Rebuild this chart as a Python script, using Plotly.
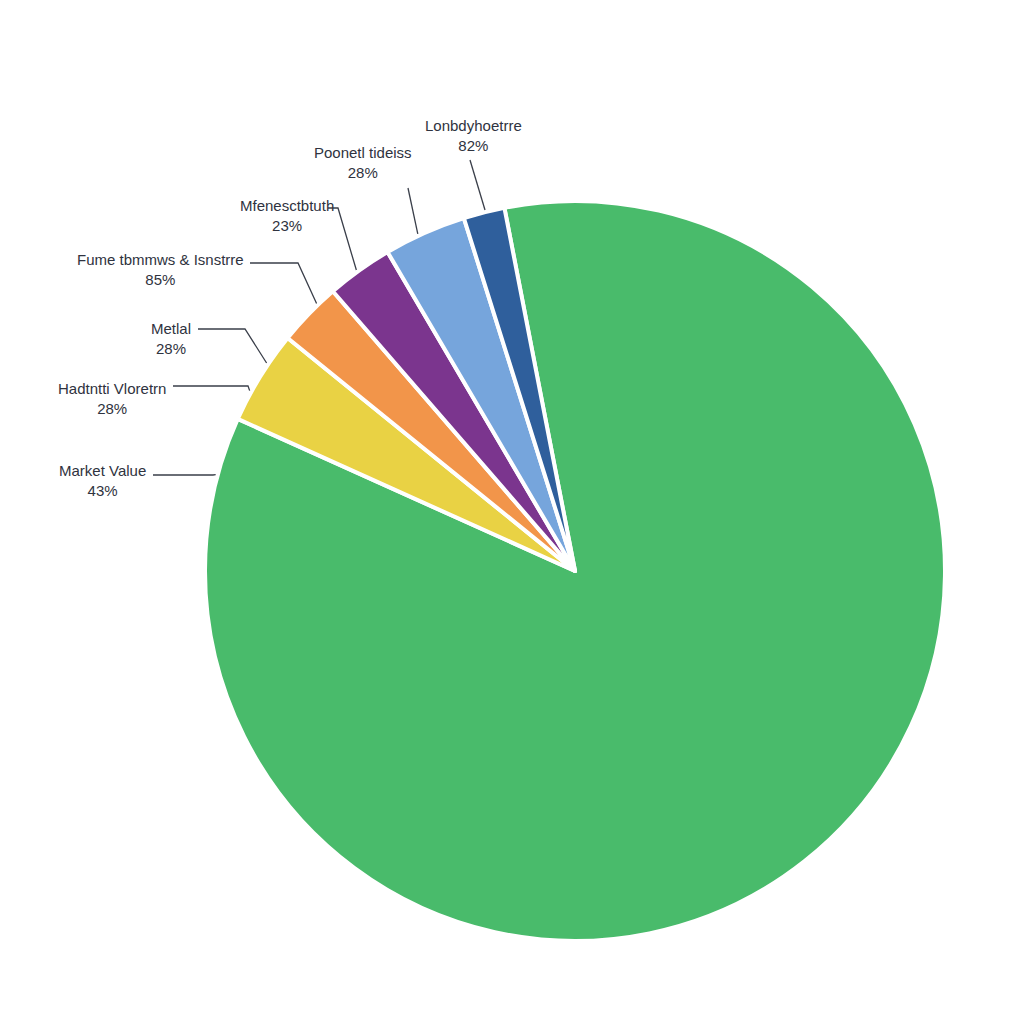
import math
import plotly.graph_objects as go

# slice data (clockwise from the top-left edge of the big slice)
categories = ["Market Value", "Hadtntti Vloretrn", "Fume tbmmws & Isnstrre",
              "Mfenesctbtuth", "Poonetl tideiss", "Lonbdyhoetrre"]
values = [84.8, 4.1, 2.8, 2.9, 3.6, 1.8]
colors = ["#49bb6b", "#e9d244", "#f2954a", "#7b358e", "#76a5dc", "#2f5f9c"]

# callout labels as printed on the picture
callout_names = ["Lonbdyhoetrre", "Poonetl tideiss", "Mfenesctbtuth",
                 "Fume tbmmws & Isnstrre", "Metlal", "Hadtntti Vloretrn", "Market Value"]
callout_pcts = ["82%", "28%", "23%", "85%", "28%", "28%", "43%"]

W = H = 1024
CX, CY, R = 567, 563, 370

fig = go.Figure(go.Pie(
    labels=categories, values=values, sort=False, direction="clockwise",
    rotation=-11, marker=dict(colors=colors, line=dict(color="white", width=4)),
    textinfo="none", hoverinfo="label+percent", showlegend=False,
    domain=dict(x=[(CX - R) / W, (CX + R) / W], y=[1 - (CY + R) / H, 1 - (CY - R) / H]),
))

# layout of callouts: text anchor (x, y, xanchor), elbow path, angle (deg ccw from top) of pointer
callout_layout = [
    (465, 115, "center", [(462, 152)], 14),
    (355, 142, "center", [(400, 180)], 25),
    (328, 195, "right", [(320, 200), (330, 200)], 36),
    (238, 249, "right", [(242, 255), (290, 255)], 44),
    (185, 318, "right", [(190, 321), (237, 321)], 56),
    (160, 378, "right", [(165, 378), (240, 378)], 61),
    (140, 460, "right", [(145, 467), (205, 467)], 75),
]

px = lambda x: x / W
py = lambda y: 1 - y / H

for name, pct, (tx, ty, anchor, path, ang) in zip(callout_names, callout_pcts, callout_layout):
    a = math.radians(ang)
    ex, ey = CX - (R + 2) * math.sin(a), CY - (R + 2) * math.cos(a)
    pts = path + [(ex, ey)]
    d = "M " + " L ".join(f"{px(x)},{py(y)}" for x, y in pts)
    fig.add_shape(type="path", path=d, xref="paper", yref="paper",
                  line=dict(color="#3a3f4a", width=1.3))
    fig.add_annotation(x=px(tx), y=py(ty + 12), xref="paper", yref="paper",
                       text=f"{name}<br>{pct}", showarrow=False, xanchor=anchor,
                       yanchor="middle", align="center",
                       font=dict(family="Liberation Sans", size=15, color="#2f3340"))

fig.update_layout(width=W, height=H, margin=dict(l=0, r=0, t=0, b=0),
                  paper_bgcolor="white", plot_bgcolor="white")
fig.write_html("out.html")
